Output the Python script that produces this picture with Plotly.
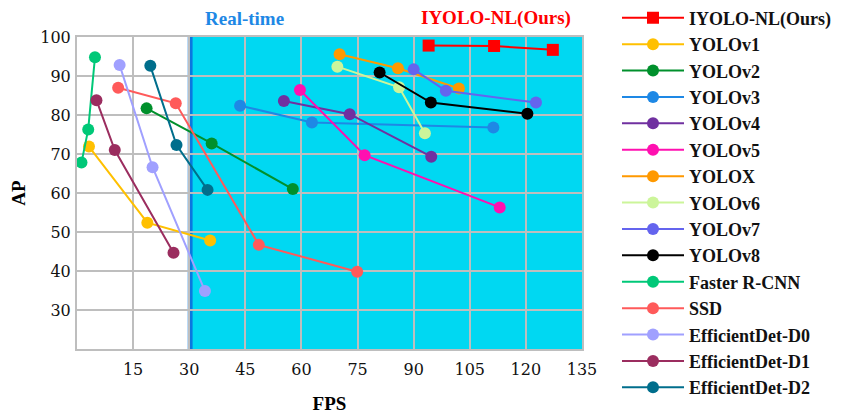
import plotly.graph_objects as go

names = ["IYOLO-NL(Ours)", "YOLOv1", "YOLOv2", "YOLOv3", "YOLOv4", "YOLOv5", "YOLOX",
         "YOLOv6", "YOLOv7", "YOLOv8", "Faster R-CNN", "SSD", "EfficientDet-D0",
         "EfficientDet-D1", "EfficientDet-D2"]

fps = [
    [94.0, 111.5, 127.2],
    [3.2, 18.8, 35.6],
    [18.6, 36.0, 57.7],
    [43.6, 62.8, 111.3],
    [55.3, 72.9, 94.7],
    [59.6, 76.9, 113.0],
    [70.2, 85.8, 102.1],
    [69.6, 86.1, 93.0],
    [90.0, 98.6, 122.7],
    [80.9, 94.6, 120.4],
    [1.2, 3.0, 4.8],
    [11.0, 26.4, 48.6, 74.9],
    [11.4, 20.2, 34.2],
    [5.2, 10.1, 25.8],
    [19.6, 26.6, 34.9],
]

ap = [
    [97.8, 97.7, 96.7],
    [71.9, 52.4, 47.8],
    [81.7, 72.7, 61.0],
    [82.4, 78.1, 76.8],
    [83.6, 80.2, 69.3],
    [86.4, 69.7, 56.3],
    [95.6, 92.0, 86.8],
    [92.4, 87.1, 75.3],
    [91.7, 86.2, 83.2],
    [90.9, 83.2, 80.3],
    [67.8, 76.3, 94.8],
    [87.0, 83.0, 46.7, 39.8],
    [92.8, 66.6, 34.9],
    [83.8, 71.0, 44.7],
    [92.6, 72.3, 60.8],
]

colors = ["#FF0000", "#FFC000", "#00902C", "#1E88E5", "#7030A0", "#FF10B0", "#FF9900",
          "#CCF59A", "#6464EE", "#000000", "#00C878", "#FF5A5A", "#A0A0FF",
          "#9B2D5F", "#006E8C"]

x_ticks = [15, 30, 45, 60, 75, 90, 105, 120, 135]
y_ticks = [30, 40, 50, 60, 70, 80, 90, 100]

fig = go.Figure()
for i, n in enumerate(names):
    sym = "square" if i == 0 else "circle"
    fig.add_trace(go.Scatter(
        x=fps[i], y=ap[i], name=n, mode="lines+markers",
        line=dict(color=colors[i], width=2),
        marker=dict(symbol=sym, size=12, color=colors[i]),
        legendgroup=n,
    ))

fig.add_shape(type="rect", xref="x", yref="y", x0=30, x1=135, y0=20, y1=100,
              fillcolor="#00D8F2", line=dict(width=0), layer="below")
fig.add_shape(type="rect", xref="x", yref="y", x0=29.6, x1=30.9, y0=20, y1=100,
              fillcolor="#0A78E0", line=dict(width=0), layer="below")

serif = "Liberation Serif"
fig.add_annotation(x=0.331, y=1.0, xref="paper", yref="paper", yanchor="bottom",
                   yshift=6, xanchor="center",
                   text="<b>Real-time</b>", showarrow=False,
                   font=dict(family=serif, size=19, color="#1E88E5"))
fig.add_annotation(x=0.830, y=1.0, xref="paper", yref="paper", yanchor="bottom",
                   yshift=6, xanchor="center",
                   text="<b>IYOLO-NL(Ours)</b>", showarrow=False,
                   font=dict(family=serif, size=19, color="#FF0000"))

axis_common = dict(showgrid=True, gridcolor="#BEBEBE", gridwidth=2,
                   showline=True, linecolor="#BEBEBE", linewidth=2, mirror=True,
                   zeroline=False, automargin=False,
                   tickfont=dict(family="DejaVu Serif", size=16, color="#111"),
                   ticks="outside", tickcolor="rgba(0,0,0,0)")

fig.update_xaxes(range=[0, 135], tickvals=x_ticks, ticklen=5,
                 title=dict(text="<b>FPS</b>", font=dict(family=serif, size=19, color="#000"),
                            standoff=18),
                 **axis_common)
fig.update_yaxes(range=[20, 100], tickvals=y_ticks, ticklen=1,
                 title=dict(text="<b>AP</b>", font=dict(family=serif, size=19, color="#000"),
                            standoff=13),
                 **axis_common)

fig.update_layout(
    width=833, height=411,
    margin=dict(l=69, r=259, t=29, b=70, autoexpand=False),
    paper_bgcolor="white", plot_bgcolor="white",
    showlegend=True,
    legend=dict(x=609 / 833, xref="container", y=1.12, yref="paper",
                xanchor="left", yanchor="top", maxheight=420,
                font=dict(family=serif, size=18, color="#111", weight="bold"),
                itemwidth=62, tracegroupgap=0, bgcolor="rgba(0,0,0,0)"),
)

fig.write_html("out.html")
